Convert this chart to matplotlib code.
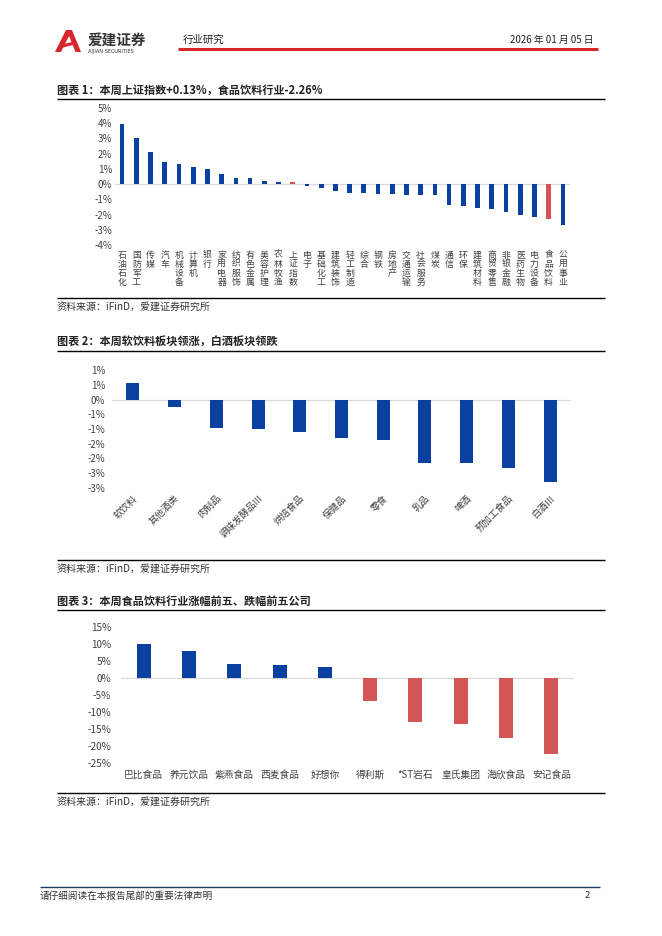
import matplotlib
matplotlib.use("Agg")
import matplotlib.pyplot as plt
from matplotlib.lines import Line2D
from matplotlib.patches import Polygon
from matplotlib.ticker import FixedLocator

plt.rcParams['font.family'] = ['Noto Sans CJK SC', 'DejaVu Sans']
plt.rcParams['axes.unicode_minus'] = False

# ---------------- data ----------------
c1_categories = ["石油石化", "国防军工", "传媒", "汽车", "机械设备", "计算机", "银行", "家用电器",
                 "纺织服饰", "有色金属", "美容护理", "农林牧渔", "上证指数", "电子", "基础化工", "建筑装饰",
                 "轻工制造", "综合", "钢铁", "房地产", "交通运输", "社会服务", "煤炭", "通信",
                 "环保", "建筑材料", "商贸零售", "非银金融", "医药生物", "电力设备", "食品饮料", "公用事业"]
c1_values = [3.92, 3.04, 2.12, 1.44, 1.31, 1.12, 0.98, 0.68,
             0.42, 0.39, 0.22, 0.12, 0.13, -0.13, -0.28, -0.43,
             -0.56, -0.60, -0.63, -0.68, -0.70, -0.72, -0.74, -1.40,
             -1.42, -1.60, -1.64, -1.84, -2.06, -2.19, -2.26, -2.71]
c1_highlight = ["上证指数", "食品饮料"]
c1_yticks = [5, 4, 3, 2, 1, 0, -1, -2, -3, -4]
c1_yticklabels = ["5%", "4%", "3%", "2%", "1%", "0%", "-1%", "-2%", "-3%", "-4%"]

c2_categories = ["软饮料", "其他酒类", "肉制品", "调味发酵品III", "烘焙食品", "保健品",
                 "零食", "乳品", "啤酒", "预加工食品", "白酒III"]
c2_values = [0.55, -0.25, -0.98, -0.99, -1.09, -1.30, -1.36, -2.14, -2.15, -2.32, -2.81]
c2_yticks = [1.0, 0.5, 0.0, -0.5, -1.0, -1.5, -2.0, -2.5, -3.0]
c2_yticklabels = ["1%", "1%", "0%", "-1%", "-1%", "-2%", "-2%", "-3%", "-3%"]

c3_categories = ["巴比食品", "养元饮品", "紫燕食品", "西麦食品", "好想你",
                 "得利斯", "*ST岩石", "皇氏集团", "海欣食品", "安记食品"]
c3_values = [9.9, 7.9, 4.1, 3.7, 3.3, -6.9, -12.9, -13.4, -17.6, -22.4]
c3_yticks = [15, 10, 5, 0, -5, -10, -15, -20, -25]
c3_yticklabels = ["15%", "10%", "5%", "0%", "-5%", "-10%", "-15%", "-20%", "-25%"]

BLUE = "#0A41A0"
RED = "#D45556"
TXT = "#404040"

W, H = 662, 936
fig = plt.figure(figsize=(W / 100, H / 100), dpi=100)


def fx(x):
    return x / W


def fy(y):
    return 1 - y / H


def hline(x0, x1, y, color="black", lw=1.0):
    fig.add_artist(Line2D([fx(x0), fx(x1)], [fy(y), fy(y)], transform=fig.transFigure,
                          color=color, lw=lw, solid_capstyle="butt"))


def axes_px(left, top, right, bottom):
    return fig.add_axes([fx(left), fy(bottom), (right - left) / W, (bottom - top) / H])


# ---------------- header ----------------
logo = Polygon([[fx(55), fy(52)], [fx(66), fy(30)], [fx(72), fy(30)], [fx(81), fy(52)],
                [fx(75.5), fy(52)], [fx(69), fy(36)], [fx(61), fy(52)]],
               closed=True, transform=fig.transFigure, facecolor="#D8262D", edgecolor="none")
fig.add_artist(logo)
bar_logo = Polygon([[fx(60), fy(45)], [fx(76), fy(41)], [fx(77), fy(44)], [fx(61), fy(48)]],
                   closed=True, transform=fig.transFigure, facecolor="#D8262D", edgecolor="none")
fig.add_artist(bar_logo)
fig.text(fx(88), fy(40), "爱建证券", fontsize=10.5, fontweight="bold", color="#333333",
         ha="left", va="center")
fig.text(fx(88), fy(51.5), "AIJIAN SECURITIES", fontsize=3.6, color="#333333",
         ha="left", va="center", family=["DejaVu Sans"])
fig.text(fx(183), fy(40), "行业研究", fontsize=7.5, color="#222222", ha="left", va="center")
fig.text(fx(593), fy(40), "2026 年 01 月 05 日", fontsize=7, color="#222222", ha="right", va="center")
hline(178, 598, 49, color="#D8262D", lw=2.2)

TITLE_FS = 8.0
SRC_FS = 7.2

# ---------------- chart 1 ----------------
fig.text(fx(57), fy(90), "图表 1：本周上证指数+0.13%，食品饮料行业-2.26%", fontsize=TITLE_FS,
         fontweight="bold", color="#222222", ha="left", va="center")
hline(57, 605, 99)
ax1 = axes_px(115, 108, 570, 245)
x1 = list(range(len(c1_categories)))
colors1 = [RED if c in c1_highlight else BLUE for c in c1_categories]
ax1.bar(x1, c1_values, width=0.33, color=colors1, zorder=3)
ax1.axhline(0, color="#D9D9D9", lw=0.9, zorder=2)
ax1.set_xlim(-0.5, len(c1_categories) - 0.5)
ax1.set_ylim(-4, 5)
ax1.yaxis.set_major_locator(FixedLocator(c1_yticks))
ax1.set_yticklabels(c1_yticklabels, fontsize=7.0, color=TXT)
ax1.set_xticks(x1)
ax1.set_xticklabels(["\n".join(c) for c in c1_categories], fontsize=6.4, color=TXT,
                    linespacing=1.0, va="top")
ax1.tick_params(axis="both", length=0)
ax1.tick_params(axis="x", pad=4)
ax1.tick_params(axis="y", pad=2)
for s in ax1.spines.values():
    s.set_visible(False)
hline(57, 605, 298)
fig.text(fx(57), fy(307), "资料来源：iFinD，爱建证券研究所", fontsize=SRC_FS, color="#333333",
         ha="left", va="center")

# ---------------- chart 2 ----------------
fig.text(fx(57), fy(341), "图表 2：本周软饮料板块领涨，白酒板块领跌", fontsize=TITLE_FS,
         fontweight="bold", color="#222222", ha="left", va="center")
hline(57, 605, 351)
ax2 = axes_px(112, 370, 571, 488)
x2 = list(range(len(c2_categories)))
ax2.bar(x2, c2_values, width=0.31, color=BLUE, zorder=3)
ax2.axhline(0, color="#D9D9D9", lw=0.9, zorder=2)
ax2.set_xlim(-0.5, len(c2_categories) - 0.5)
ax2.set_ylim(-3, 1)
ax2.yaxis.set_major_locator(FixedLocator(c2_yticks))
ax2.set_yticklabels(c2_yticklabels, fontsize=7.0, color=TXT)
ax2.set_xticks(x2)
ax2.set_xticklabels(c2_categories, fontsize=6.8, color=TXT, rotation=45,
                    ha="right", va="top", rotation_mode="anchor")
ax2.tick_params(axis="both", length=0)
ax2.tick_params(axis="x", pad=4)
ax2.tick_params(axis="y", pad=5)
for s in ax2.spines.values():
    s.set_visible(False)
hline(57, 605, 560)
fig.text(fx(57), fy(569), "资料来源：iFinD，爱建证券研究所", fontsize=SRC_FS, color="#333333",
         ha="left", va="center")

# ---------------- chart 3 ----------------
fig.text(fx(57), fy(601), "图表 3：本周食品饮料行业涨幅前五、跌幅前五公司", fontsize=TITLE_FS,
         fontweight="bold", color="#222222", ha="left", va="center")
hline(57, 605, 610)
ax3 = axes_px(121, 627, 574, 763)
x3 = list(range(len(c3_categories)))
colors3 = [BLUE if v >= 0 else RED for v in c3_values]
ax3.bar(x3, c3_values, width=0.31, color=colors3, zorder=3)
ax3.axhline(0, color="#D9D9D9", lw=0.9, zorder=2)
ax3.set_xlim(-0.5, len(c3_categories) - 0.5)
ax3.set_ylim(-25, 15)
ax3.yaxis.set_major_locator(FixedLocator(c3_yticks))
ax3.set_yticklabels(c3_yticklabels, fontsize=7.2, color=TXT)
ax3.set_xticks(x3)
ax3.set_xticklabels(c3_categories, fontsize=7.0, color=TXT)
ax3.tick_params(axis="both", length=0)
ax3.tick_params(axis="x", pad=5)
ax3.tick_params(axis="y", pad=7)
for s in ax3.spines.values():
    s.set_visible(False)
hline(57, 605, 793)
fig.text(fx(57), fy(802), "资料来源：iFinD，爱建证券研究所", fontsize=SRC_FS, color="#333333",
         ha="left", va="center")

# ---------------- footer ----------------
hline(40, 600, 887, color="#1F3A5F", lw=1.0)
fig.text(fx(40), fy(896), "请仔细阅读在本报告尾部的重要法律声明", fontsize=6.9, color="#333333",
         ha="left", va="center")
fig.text(fx(590), fy(896), "2", fontsize=6.8, color="#333333", ha="right", va="center")

fig.savefig("out.png", dpi=100)
